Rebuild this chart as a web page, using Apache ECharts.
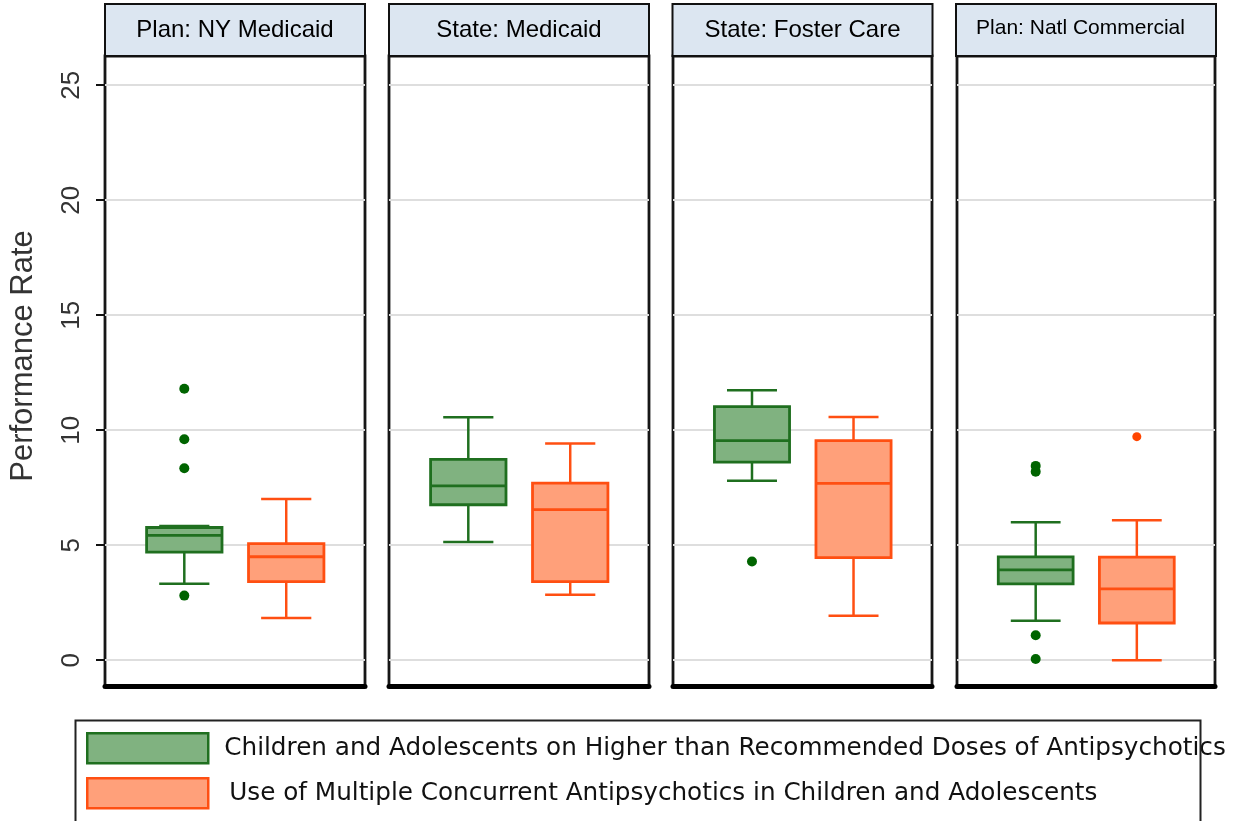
<!DOCTYPE html>
<html><head><meta charset="utf-8">
<script src="https://cdn.jsdelivr.net/npm/echarts@6/dist/echarts.min.js"></script>
<style>html,body{margin:0;padding:0;background:#fff}#chart{width:1234px;height:821px}</style>
</head><body><div id="chart"></div>
<script>
const panels = ['Plan: NY Medicaid', 'State: Medicaid', 'State: Foster Care', 'Plan: Natl Commercial'];
const seriesNames = [
  'Children and Adolescents on Higher than Recommended Doses of Antipsychotics',
  'Use of Multiple Concurrent Antipsychotics in Children and Adolescents'
];
// [lower whisker, Q1, median, Q3, upper whisker] per panel
const higherDoseBoxes = [
  [3.33, 4.70, 5.43, 5.77, 5.84],
  [5.14, 6.76, 7.58, 8.73, 10.56],
  [7.80, 8.61, 9.55, 11.03, 11.74],
  [1.72, 3.32, 3.93, 4.49, 6.00]
];
const multipleBoxes = [
  [1.84, 3.42, 4.50, 5.07, 7.01],
  [2.85, 3.42, 6.55, 7.70, 9.42],
  [1.93, 4.46, 7.69, 9.55, 10.58],
  [0.00, 1.62, 3.10, 4.48, 6.09]
];
const higherDoseOutliers = [[11.80, 9.61, 8.35, 2.81], [], [4.29], [8.45, 8.20, 1.09, 0.05]];
const multipleOutliers = [[], [], [], [9.72]];
const yTicks = [0, 5, 10, 15, 20, 25];
const yTitle = 'Performance Rate';

const GREEN = {stroke: '#1f6f1f', fill: '#80b280', dot: '#006400'};
const ORANGE = {stroke: '#ff4f12', fill: '#ffa07a', dot: '#ff4500'};
const gridLeft = [105, 389, 673, 957];
const gridWidth = [260, 260, 259, 258];
const GRID_TOP = 56, GRID_H = 630;
const Y_MIN = -1.12, Y_MAX = 26.27;

function boxRenderer(offsetFrac, col) {
  return function (params, api) {
    const band = api.size([1, 0])[0];
    const cx = api.coord([api.value(0), 0])[0] + offsetFrac * band;
    const y = i => api.coord([api.value(0), api.value(i)])[1];
    const lo = y(1), q1 = y(2), md = y(3), q3 = y(4), hi = y(5);
    const bw = band * 0.29, cw = band * 0.193;
    const ws = {stroke: col.stroke, lineWidth: 2.5};
    return {type: 'group', children: [
      {type: 'line', shape: {x1: cx, y1: hi, x2: cx, y2: q3}, style: ws},
      {type: 'line', shape: {x1: cx, y1: q1, x2: cx, y2: lo}, style: ws},
      {type: 'line', shape: {x1: cx - cw / 2, y1: hi, x2: cx + cw / 2, y2: hi}, style: ws},
      {type: 'line', shape: {x1: cx - cw / 2, y1: lo, x2: cx + cw / 2, y2: lo}, style: ws},
      {type: 'rect', shape: {x: cx - bw / 2, y: q3, width: bw, height: q1 - q3},
        style: {fill: col.fill, stroke: col.stroke, lineWidth: 2.8}},
      {type: 'line', shape: {x1: cx - bw / 2, y1: md, x2: cx + bw / 2, y2: md},
        style: {stroke: col.stroke, lineWidth: 2.8}}
    ]};
  };
}
function dotRenderer(offsetFrac, col, r) {
  return function (params, api) {
    const band = api.size([1, 0])[0];
    const p = api.coord([api.value(0), api.value(1)]);
    return {type: 'circle', shape: {cx: p[0] + offsetFrac * band, cy: p[1], r: r},
      style: {fill: col.dot}};
  };
}

const grids = [], xAxes = [], yAxes = [], series = [];
panels.forEach((name, i) => {
  grids.push({left: gridLeft[i], width: gridWidth[i], top: GRID_TOP, height: GRID_H,
    show: true, backgroundColor: '#fff', borderColor: '#161616', borderWidth: 2.8,
    outerBoundsMode: 'none', containLabel: false});
  const small = i === 3;
  xAxes.push({type: 'category', gridIndex: i, data: [name], position: 'top',
    axisLine: {show: false}, axisTick: {show: false}, splitLine: {show: false},
    axisLabel: {margin: 1, interval: 0, fontFamily: 'Liberation Sans', fontSize: small ? 21 : 24,
      color: '#000', backgroundColor: '#dce6f1', borderColor: '#111', borderWidth: 2,
      width: small ? 247 : 258, lineHeight: small ? 46 : 50, align: 'center', overflow: 'none',
      padding: small ? [0, 11, 4, 0] : 0}});
  xAxes.push({type: 'category', gridIndex: i, data: [name], position: 'bottom',
    axisLine: {show: true, lineStyle: {color: '#000', width: 5}},
    axisTick: {show: false}, axisLabel: {show: false}, splitLine: {show: false}});
  const first = i === 0;
  yAxes.push({type: 'value', gridIndex: i, min: Y_MIN, max: Y_MAX,
    axisLine: {show: false},
    axisTick: {show: first, customValues: yTicks, length: 9, lineStyle: {color: '#111', width: 2}},
    axisLabel: {show: first, customValues: yTicks, rotate: 90, fontSize: 26, margin: 20,
      fontFamily: 'Liberation Sans', color: '#333'},
    splitLine: {show: true, lineStyle: {color: '#dedede', width: 2}},
    name: first ? yTitle : '', nameLocation: 'middle', nameGap: 66, nameRotate: 90,
    nameTextStyle: {fontSize: 31, fontFamily: 'Liberation Sans', color: '#333', padding: [0, 0, 0, 30]}});
  const xi = i * 2;
  series.push({type: 'custom', name: seriesNames[0], xAxisIndex: xi, yAxisIndex: i,
    encode: {x: 0, y: [1, 2, 3, 4, 5]}, renderItem: boxRenderer(-0.195, GREEN),
    data: [[0].concat(higherDoseBoxes[i])], silent: true});
  series.push({type: 'custom', name: seriesNames[1], xAxisIndex: xi, yAxisIndex: i,
    encode: {x: 0, y: [1, 2, 3, 4, 5]}, renderItem: boxRenderer(0.197, ORANGE),
    data: [[0].concat(multipleBoxes[i])], silent: true});
  series.push({type: 'custom', name: seriesNames[0], xAxisIndex: xi, yAxisIndex: i,
    encode: {x: 0, y: 1}, renderItem: dotRenderer(-0.195, GREEN, 5),
    data: higherDoseOutliers[i].map(v => [0, v]), silent: true});
  series.push({type: 'custom', name: seriesNames[1], xAxisIndex: xi, yAxisIndex: i,
    encode: {x: 0, y: 1}, renderItem: dotRenderer(0.197, ORANGE, 4.5),
    data: multipleOutliers[i].map(v => [0, v]), silent: true});
});

const legendBase = {orient: 'vertical', left: 81, itemWidth: 121, itemHeight: 30,
  selectedMode: false, textStyle: {fontFamily: 'DejaVu Sans', fontSize: 24.7, color: '#111'}};
const option = {
  animation: false,
  backgroundColor: '#fff',
  grid: grids, xAxis: xAxes, yAxis: yAxes, series: series,
  legend: [
    Object.assign({}, legendBase, {top: 727, data: [
      {name: seriesNames[0], icon: 'rect',
        itemStyle: {color: GREEN.fill, borderColor: GREEN.stroke, borderWidth: 2.5},
        textStyle: {padding: [0, 0, 0, 11]}}]}),
    Object.assign({}, legendBase, {top: 772, data: [
      {name: seriesNames[1], icon: 'rect',
        itemStyle: {color: ORANGE.fill, borderColor: ORANGE.stroke, borderWidth: 2.5},
        textStyle: {padding: [0, 0, 0, 16]}}]})
  ],
  graphic: [{type: 'rect', left: 73, top: 718, z: 100, silent: true,
    shape: {width: 1125, height: 102}, style: {fill: null, stroke: '#222', lineWidth: 2}}]
};
const chart = echarts.init(document.getElementById('chart'));
chart.setOption(option);
</script></body></html>
